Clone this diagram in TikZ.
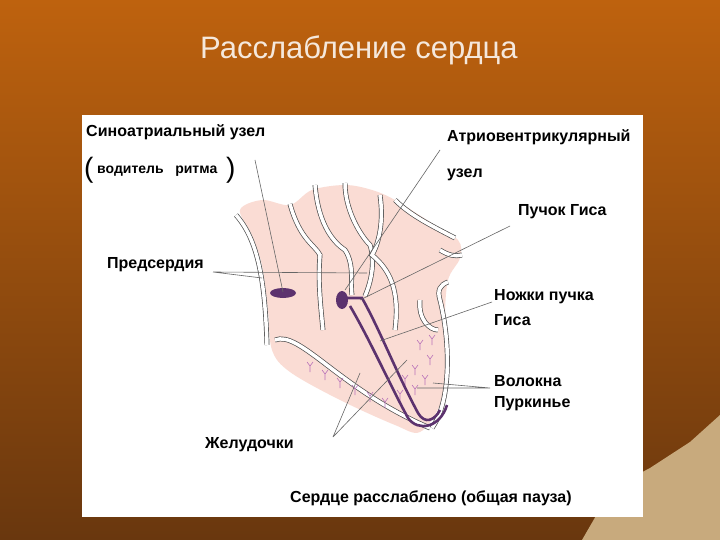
\documentclass[tikz,border=0pt]{standalone}
\usepackage{fontspec}
\setmainfont{Liberation Sans}
\definecolor{bgtop}{RGB}{190,98,14}
\definecolor{bgbot}{RGB}{105,55,14}
\definecolor{tan}{RGB}{200,170,125}
\definecolor{titlec}{RGB}{245,232,220}
\definecolor{heartpink}{RGB}{250,220,212}
\definecolor{condc}{RGB}{92,50,110}
\begin{document}
\begin{tikzpicture}[x=1pt,y=-1pt,
  lbl/.style={anchor=west,inner sep=0pt,font=\fontsize{16}{18}\selectfont\bfseries},
  ptr/.style={draw=black!60,line width=0.6pt},
  vessel/.style={draw=black!70,line width=0.7pt,double=white,double distance=3.5pt},
  purk/.style={draw=violet!55,line width=0.6pt},
  cond/.style={draw=condc,line width=2.6pt}]
\useasboundingbox (0,0) rectangle (720,540);
\shade[top color=bgtop,bottom color=bgbot] (0,0) rectangle (720,540);
\fill[tan] (582,540) -- (612,488) -- (650,468) -- (690,442) -- (720,415) -- (720,540) -- cycle;
\node[inner sep=0pt,font=\fontsize{31}{33}\selectfont,text=titlec] (title) at (359,50) {Расслабление сердца};
\fill[white] (82,115) rectangle (643,517);
% heart body
\fill[heartpink] plot[smooth cycle,tension=0.55] coordinates{
 (240,210) (262,200) (290,205) (312,190) (345,185) (372,190) (395,200) (430,222) (458,240) (460,258)
 (448,280) (445,320) (448,370) (440,405) (420,432) (395,425) (340,400) (290,372) (272,350)
 (268,310) (262,265) (252,235)};
% vessels / walls
\draw[vessel] (236,215) .. controls (258,240) and (265,280) .. (267,345);
\draw[vessel] (275,340) .. controls (300,330) and (340,390) .. (430,428);
\draw[vessel] (432,428) .. controls (452,400) and (450,340) .. (440,300) .. controls (437,290) and (440,285) .. (448,282);
\draw[vessel] (290,204) .. controls (300,240) and (315,245) .. (320,255) .. controls (318,280) and (320,300) .. (323,330);
\draw[vessel] (315,185) .. controls (318,220) and (330,240) .. (345,250) .. controls (355,265) and (350,285) .. (352,295);
\draw[vessel] (345,183) .. controls (345,210) and (360,235) .. (370,245) .. controls (375,260) and (372,280) .. (365,296);
\draw[vessel] (380,195) .. controls (385,230) and (375,250) .. (372,255) .. controls (390,270) and (400,290) .. (395,330);
\draw[vessel] (395,200) .. controls (410,215) and (430,225) .. (455,238);
\draw[vessel] (440,250) .. controls (448,255) and (455,257) .. (462,255);
\draw[vessel] (420,300) .. controls (418,320) and (430,330) .. (438,330);
% Purkinje fibres
\foreach \x/\y in {310/372,325/380,340/388,355/395,370/402,385/408,400/400,415/395,425/385,430/365,432/345,420/350,415/375,405/385}{
 \draw[purk] (\x,\y) -- ++(0,-6) -- ++(-3,-4) (\x,\y) ++(0,-6) -- ++(3,-4);}
% conduction system
\fill[condc] (283,293) ellipse (13 and 5);
\fill[condc] (342,300) ellipse (6 and 9);
\draw[cond] (345,298) -- (362,298) .. controls (380,330) and (395,370) .. (418,413) .. controls (425,425) and (435,420) .. (440,410);
\draw[cond] (350,306) .. controls (370,340) and (390,385) .. (408,418) .. controls (418,432) and (440,428) .. (447,405);
% pointers
\coordinate (p1) at (255,160); \coordinate (t1) at (283,292);
\draw[ptr] (p1) -- (t1);
\coordinate (p2) at (440,150); \coordinate (t2) at (345,290);
\draw[ptr] (p2) -- (t2);
\coordinate (p3) at (510,226); \coordinate (t3) at (360,300);
\draw[ptr] (p3) -- (t3);
\coordinate (p4) at (213,272); \coordinate (t4a) at (367,273); \coordinate (t4b) at (262,278);
\draw[ptr] (p4) -- (t4a) (p4) -- (t4b);
\coordinate (p5) at (492,302); \coordinate (t5) at (380,341);
\draw[ptr] (p5) -- (t5);
\coordinate (p6) at (490,388); \coordinate (t6a) at (433,383); \coordinate (t6b) at (417,388);
\draw[ptr] (p6) -- (t6a) (p6) -- (t6b);
\coordinate (p7) at (333,437); \coordinate (t7a) at (360,373); \coordinate (t7b) at (407,360);
\draw[ptr] (p7) -- (t7a) (p7) -- (t7b);
% labels
\node[lbl] (l1) at (86,132) {Синоатриальный узел};
\node[lbl,font=\fontsize{28}{30}\selectfont] (lp) at (84,170) {(};
\node[lbl,font=\fontsize{14}{16}\selectfont\bfseries] (l1b) at (97,171) {водитель\ \ \ ритма};
\node[lbl,font=\fontsize{28}{30}\selectfont] (rp) at (226,170) {)};
\node[lbl] (l2) at (447,137) {Атриовентрикулярный};
\node[lbl] (l2b) at (447,175) {узел};
\node[lbl] (l3) at (518,212) {Пучок Гиса};
\node[lbl] (l4) at (107,265) {Предсердия};
\node[lbl] (l5) at (494,297) {Ножки пучка};
\node[lbl] (l5b) at (494,320) {Гиса};
\node[lbl] (l6) at (494,381) {Волокна};
\node[lbl] (l6b) at (494,404) {Пуркинье};
\node[lbl] (l7) at (205,445) {Желудочки};
\node[lbl] (l8) at (290,498) {Сердце расслаблено (общая пауза)};
\end{tikzpicture}
\end{document}
